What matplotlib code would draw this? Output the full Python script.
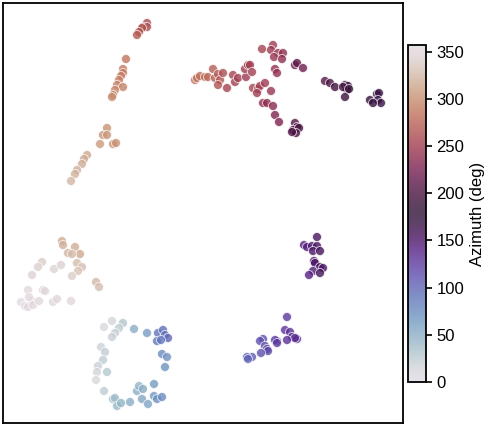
import matplotlib.pyplot as plt
import matplotlib as mpl

plt.rcParams['font.family'] = ['Liberation Sans', 'DejaVu Sans']

# embedding coords (arbitrary units) and azimuth per point
x_pos = [147, 143, 147, 142, 139, 137,
         126, 123, 123, 121, 119, 117, 123, 115, 113, 112,
         107, 103, 107, 100, 113, 116,
         87, 84, 82, 77, 75, 71,
         195, 197, 200, 205, 208, 213, 215, 218, 220, 218, 223, 227, 233, 235, 238, 246, 245, 248,
         262, 273, 271, 278, 283, 274, 282, 275, 277, 250, 252, 253, 258, 260, 265, 257, 271, 263, 267, 273, 275, 279,
         295, 297, 293, 299, 296, 292, 295, 297, 303,
         325, 330, 335, 345, 348, 347, 345, 343, 349,
         370, 377, 379, 378, 381, 373,
         62, 63, 68, 75, 80, 72, 77, 82, 78, 42, 38, 32, 54, 61, 72, 96, 99,
         28, 43, 45, 21, 25, 28, 32, 33, 39, 53, 57, 71, 29,
         112, 123, 104, 119, 115, 112, 134, 147, 158, 163, 165, 168, 157, 161, 162, 167, 165,
         101, 105, 103, 98, 107, 97, 96, 104, 113, 115, 117, 121, 130, 137, 139, 143, 142, 148,
         154, 154, 157, 162,
         317, 304, 307, 312, 317, 313, 320, 314, 315, 320, 323, 313, 320, 309,
         287, 285, 290, 292, 297, 295, 287, 277, 275, 277, 263, 260, 265, 267, 268, 261, 252, 247, 248]
y_pos = [23, 27, 27, 28, 32, 35,
         59, 69, 73, 76, 80, 85, 87, 90, 95, 97,
         128, 135, 135, 144, 144, 143,
         155, 159, 164, 170, 174, 181,
         80, 78, 76, 77, 77, 69, 78, 74, 80, 85, 73, 88, 75, 82, 78, 77, 69, 65,
         49, 45, 50, 53, 53, 57, 59, 69, 73, 65, 72, 88, 89, 86, 83, 93, 91, 103, 103, 106, 115, 122,
         123, 127, 130, 128, 133, 132, 65, 63, 68,
         81, 83, 87, 85, 86, 90, 97, 87, 89,
         100, 94, 93, 100, 103, 103,
         241, 245, 253, 247, 254, 254, 263, 267, 271, 262, 267, 275, 269, 265, 276, 282, 287,
         290, 290, 291, 302, 306, 307, 301, 305, 301, 302, 299, 301, 297,
         321, 323, 327, 328, 333, 337, 329, 333, 333, 330, 335, 338, 341, 340, 354, 357, 367,
         347, 352, 360, 366, 372, 372, 380, 391, 399, 398, 406, 403, 402, 391, 386, 389, 399, 404,
         384, 396, 399, 397,
         237, 245, 247, 246, 246, 251, 251, 261, 263, 267, 268, 271, 273, 275,
         317, 330, 332, 337, 339, 338, 340, 341, 340, 343, 339, 341, 346, 349, 351, 353, 357, 357, 359]
azimuth = [262, 265, 263, 266, 268, 270,
           285, 288, 290, 291, 292, 294, 293, 295, 297, 298,
           303, 305, 304, 307, 303, 302,
           315, 316, 318, 320, 321, 324,
           285, 284, 283, 282, 280, 272, 270, 268, 266, 265, 262, 255, 255, 252, 250, 248, 250, 252,
           255, 250, 248, 244, 240, 246, 238, 242, 240, 250, 252, 255, 252, 250, 248, 250, 245, 240, 238, 235, 230, 228,
           205, 200, 205, 198, 200, 202, 215, 212, 220,
           205, 200, 195, 190, 188, 190, 192, 192, 188,
           175, 172, 170, 168, 170, 172,
           318, 320, 322, 318, 315, 325, 328, 330, 332, 340, 342, 345, 345, 343, 340, 325, 328,
           352, 348, 350, 355, 356, 354, 352, 353, 350, 350, 350, 348, 353,
           15, 30, 10, 25, 22, 20, 50, 62, 90, 95, 92, 100, 88, 90, 75, 72, 70,
           18, 22, 25, 20, 28, 15, 10, 25, 40, 38, 42, 45, 50, 48, 45, 52, 55, 58,
           65, 66, 70, 75,
           155, 140, 142, 150, 155, 152, 158, 150, 152, 155, 152, 145, 158, 140,
           125, 128, 130, 132, 135, 132, 130, 125, 122, 125, 115, 112, 115, 118, 118, 112, 105, 102, 100]

fig = plt.figure(figsize=(4.98, 4.28), dpi=100)
ax = fig.add_axes([3/498, 5/428, 400/498, 420/428])
sc = ax.scatter(x_pos, y_pos, c=azimuth, cmap='twilight', vmin=0, vmax=357,
                s=42, edgecolors='white', linewidths=0.6, alpha=0.8)
ax.set_xlim(3, 403)
ax.set_ylim(423, 3)
ax.set_xticks([])
ax.set_yticks([])
for sp in ax.spines.values():
    sp.set_linewidth(1.3)

cax = fig.add_axes([408/498, 46/428, 18/498, 337/428])
cb = fig.colorbar(sc, cax=cax)
cb.set_ticks([0, 50, 100, 150, 200, 250, 300, 350])
cb.outline.set_linewidth(1.3)
cax.tick_params(labelsize=12, width=1.2, length=4)
cb.set_label('Azimuth (deg)', fontsize=12)

fig.savefig('out.png', dpi=100)
